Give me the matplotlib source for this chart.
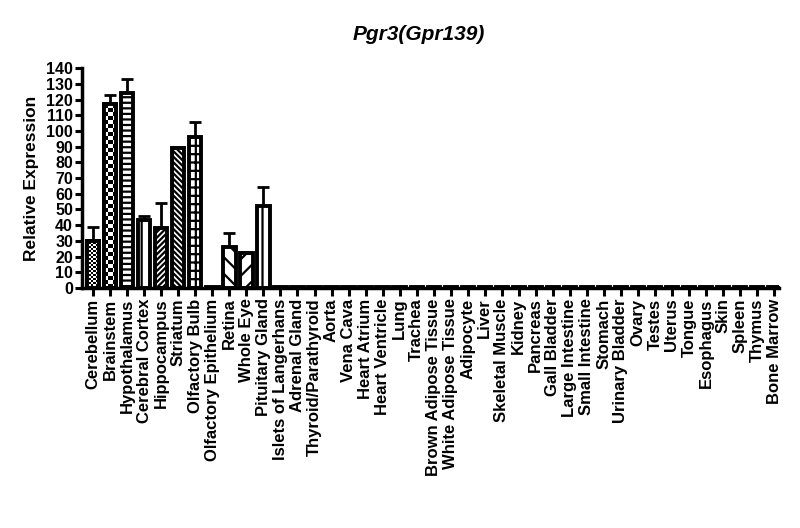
import matplotlib
matplotlib.use("Agg")
import matplotlib.pyplot as plt
import numpy as np

plt.rcParams['font.family'] = ['Liberation Sans', 'DejaVu Sans']
plt.rcParams['font.weight'] = 'bold'
plt.rcParams['hatch.linewidth'] = 1.6

tissues = ["Cerebellum", "Brainstem", "Hypothalamus", "Cerebral Cortex", "Hippocampus",
           "Striatum", "Olfactory Bulb", "Olfactory Epithelium", "Retina", "Whole Eye",
           "Pituitary Gland", "Islets of Langerhans", "Adrenal Gland", "Thyroid/Parathyroid",
           "Aorta", "Vena Cava", "Heart Atrium", "Heart Ventricle", "Lung", "Trachea",
           "Brown Adipose Tissue", "White Adipose Tissue", "Adipocyte", "Liver",
           "Skeletal Muscle", "Kidney", "Pancreas", "Gall Bladder", "Large Intestine",
           "Small Intestine", "Stomach", "Urinary Bladder", "Ovary", "Testes", "Uterus",
           "Tongue", "Esophagus", "Skin", "Spleen", "Thymus", "Bone Marrow"]

values = [30, 117, 124, 43, 38, 89, 96, 0.5, 26, 22, 52] + [0.5] * 30
errors = [9, 6, 9, 3, 16, 1, 10, 0, 9, 1, 12] + [0] * 30

hatches = ["checker_fine", "checker", "---", "|", "//////", "\\\\\\\\\\\\", "++",
           "", "\\\\", "//", "||"] + [""] * 30

yticks = list(range(0, 141, 10))

fig = plt.figure(figsize=(8, 5.28), dpi=100)
ax = fig.add_axes([0.1025, 0.4545, 0.8715, 0.4165])

x = np.arange(len(tissues))
width = 0.72
lw = 2.8
ax.set_xlim(-0.66, 40.3)
ax.set_ylim(0, 140)

bars = ax.bar(x, values, width=width, color='white', edgecolor='black', linewidth=lw, zorder=2)

fig.canvas.draw()
px_per_x = ax.transData.transform((1, 0))[0] - ax.transData.transform((0, 0))[0]
px_per_y = ax.transData.transform((0, 1))[1] - ax.transData.transform((0, 0))[1]

for b, h, v, xi in zip(bars, hatches, values, x):
    if h.startswith("checker"):
        sq = 2.0 if h == "checker_fine" else 4.0
        wpx = width * px_per_x
        hpx = v * px_per_y
        nc = max(1, int(round(wpx / sq)))
        nr = max(1, int(round(hpx / sq)))
        arr = (np.add.outer(np.arange(nr), np.arange(nc)) % 2).astype(float)
        im = ax.imshow(arr, cmap='gray', vmin=0, vmax=1, interpolation='nearest',
                       extent=(xi - width / 2, xi + width / 2, 0, v),
                       aspect='auto', zorder=2.5)
        im.set_clip_path(b)
        ax.bar([xi], [v], width=width, color='none', edgecolor='black', linewidth=lw, zorder=3)
    elif h:
        b.set_hatch(h)

err_lower = np.zeros(len(errors))
ax.errorbar(x, values, yerr=[err_lower, errors], fmt='none', ecolor='black',
            elinewidth=2, capsize=4, capthick=2, zorder=1.5)

ax.set_xlim(-0.66, 40.3)
ax.set_ylim(0, 140)
ax.set_yticks(yticks)
ax.set_yticklabels([str(t) for t in yticks], fontsize=11.5, fontweight='bold')
ax.set_xticks(x)
ax.set_xticklabels(tissues, rotation=90, fontsize=12, fontweight='bold')

for s in ['top', 'right']:
    ax.spines[s].set_visible(False)
for s in ['left', 'bottom']:
    ax.spines[s].set_linewidth(2.5)
ax.tick_params(axis='both', width=2.2, length=5, pad=1.5)
ax.tick_params(axis='x', length=6)

ax.set_ylabel("Relative Expression", fontsize=12.5, fontweight='bold', labelpad=5)

fig.text(419 / 800, 1 - 35 / 528, "Pgr3(Gpr139)", fontsize=15, fontweight='bold',
         fontstyle='italic', ha='center', va='center')

fig.savefig("out.png", dpi=100)
